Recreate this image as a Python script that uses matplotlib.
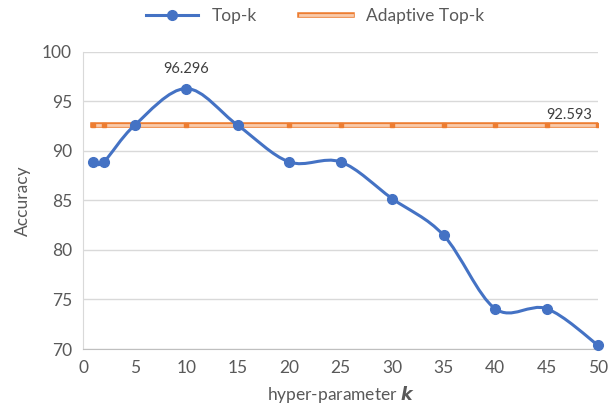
import numpy as np
import matplotlib.pyplot as plt
import matplotlib.patheffects as pe
from matplotlib.path import Path
from matplotlib.patches import PathPatch

plt.rcParams['font.family'] = ['Lato', 'DejaVu Sans']

k_vals = [1, 2, 5, 10, 15, 20, 25, 30, 35, 40, 45, 50]
topk_acc = [88.889, 88.889, 92.593, 96.296, 92.593, 88.889, 88.889, 85.185, 81.481, 74.074, 74.074, 70.370]
adaptive_acc = [92.593] * len(k_vals)

blue = "#4472C4"
orange = "#ED7D31"
text_col = "#595959"


def smooth_path(xs, ys):
    # Excel-style smoothed line: cubic Bezier segments, Catmull-Rom control points
    pts = np.column_stack([xs, ys]).astype(float)
    verts = [pts[0]]
    codes = [Path.MOVETO]
    n = len(pts)
    for i in range(n - 1):
        p0 = pts[i - 1] if i > 0 else pts[i]
        p1 = pts[i]
        p2 = pts[i + 1]
        p3 = pts[i + 2] if i + 2 < n else pts[i + 1]
        c1 = p1 + (p2 - p0) / 6.0
        c2 = p2 - (p3 - p1) / 6.0
        verts += [c1, c2, p2]
        codes += [Path.CURVE4] * 3
    return Path(verts, codes)


fig = plt.figure(figsize=(6.16, 4.15), dpi=100)
ax = fig.add_axes([0.135, 0.159, 0.836, 0.716])

# adaptive top-k: double (outlined) orange line
ax.plot(k_vals, adaptive_acc, color="#F8CBAD", linewidth=2.0, zorder=3,
        path_effects=[pe.Stroke(linewidth=4.0, foreground=orange), pe.Normal()],
        label="Adaptive Top-k")
ax.plot(k_vals, adaptive_acc, linestyle="none", marker="s", markersize=2.2,
        color=orange, zorder=3.5)

# top-k: smoothed blue line with markers
ax.add_patch(PathPatch(smooth_path(k_vals, topk_acc), facecolor="none", edgecolor=blue,
                       linewidth=2.2, zorder=4, clip_on=False))
ax.plot(k_vals, topk_acc, linestyle="none", marker="o", markersize=7, color=blue,
        zorder=5, clip_on=False)
ax.plot([], [], color=blue, linewidth=2.2, marker="o", markersize=7, label="Top-k")

ax.annotate("96.296", (10, 96.296), xytext=(0, 9), textcoords="offset points",
            ha="center", va="bottom", fontsize=10.5, color="#404040")
ax.annotate("92.593", (50, 92.593), xytext=(-4, 2), textcoords="offset points",
            ha="right", va="bottom", fontsize=10.5, color="#404040")

ax.set_xlim(0, 50)
ax.set_ylim(70, 100)
ax.set_xticks(range(0, 51, 5))
ax.set_yticks(range(70, 101, 5))
ax.yaxis.grid(True, color="#D9D9D9", linewidth=1)
ax.set_axisbelow(True)
for s in ["top", "right"]:
    ax.spines[s].set_visible(False)
ax.spines["left"].set_color("#D9D9D9")
ax.spines["bottom"].set_color("#BFBFBF")
ax.tick_params(length=0, labelsize=12.5, colors=text_col, pad=8)

ax.set_ylabel("Accuracy", fontsize=12.5, color=text_col, labelpad=8)
ax.set_xlabel(r"hyper-parameter $\boldsymbol{k}$", fontsize=12.5, color=text_col, labelpad=6)

handles, labels = ax.get_legend_handles_labels()
order = [labels.index("Top-k"), labels.index("Adaptive Top-k")]
ax.legend([handles[i] for i in order], [labels[i] for i in order], loc="lower center",
          bbox_to_anchor=(0.45, 1.04), ncol=2, frameon=False, fontsize=12.5,
          labelcolor=text_col, handlelength=3, columnspacing=2.5)

plt.savefig("out.png", dpi=100)
